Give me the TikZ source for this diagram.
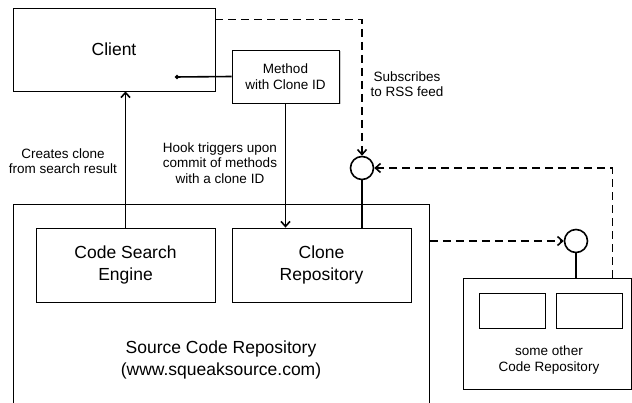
\documentclass[tikz,border=0pt]{standalone}
\usepackage{fontspec}
\setmainfont{Liberation Sans}
\usetikzlibrary{arrows.meta,shadows}

\begin{document}
\begin{tikzpicture}[x=1pt, y=-1pt,
  box/.style={draw, line width=0.8pt, inner sep=0pt, align=center},
  big/.style={font=\fontsize{17.5}{22}\selectfont, align=center},
  small/.style={font=\fontsize{13.5}{15.5}\selectfont, align=center},
  port/.style={circle, draw, line width=1.6pt, minimum size=23pt, inner sep=0pt},
  link/.style={line width=1.6pt},
  feed/.style={line width=1.6pt, dash pattern=on 8pt off 5pt},
  tip/.style={-{Straight Barb[length=5pt, width=9pt]}}]
  \useasboundingbox (0,0) rectangle (632,403);
  \clip (0,0) rectangle (632,403);

  % boxes
  \node[box, big, minimum width=202, minimum height=83] (client) at (114,49.5) {Client};
  \node[box, small, fill=white, minimum width=107, minimum height=53,
        drop shadow={shadow xshift=1.5pt, shadow yshift=-1.5pt, opacity=.4}] (method) at (285.5,76.5) {Method\\with Clone ID};
  \node[box, minimum width=416, minimum height=240, anchor=north west] (source) at (13,204) {};
  \node[box, big, minimum width=179, minimum height=74] (search) at (125.5,265) {Code Search\\Engine};
  \node[box, big, minimum width=179, minimum height=74] (clonerepo) at (321.5,265) {Clone\\Repository};
  \node[big] (sourcelabel) at (221,360) {Source Code Repository\\(www.squeaksource.com)};
  \node[box, minimum width=168, minimum height=111] (other) at (547,333.5) {};
  \node[box, minimum width=66, minimum height=35] (otherleft) at (512,310.5) {};
  \node[box, minimum width=66, minimum height=35] (otherright) at (589,310.5) {};
  \node[small] (otherlabel) at (549,360) {some other\\Code Repository};

  % feeds
  \node[port] (rss) at (362,168) {};
  \node[port] (rss2) at (576,241) {};

  % labels
  \node[small] (createlabel) at (63,161) {Creates clone\\from search result};
  \node[small] (hooklabel) at (220,163) {Hook triggers upon\\commit of methods\\with a clone ID};
  \node[small] (feedlabel) at (407,84) {Subscribes\\to RSS feed};

  % connectors
  \coordinate (methoddot) at (175,77);
  \draw[link, -{Circle[length=4pt]}] (method.west) -- (methoddot);
  \draw[link, tip] (search.north) -- (search.north |- client.south);
  \draw[link, tip] (method.south) -- (method.south |- clonerepo.north);
  \draw[link] (rss.south |- clonerepo.north) -- (rss.south);
  \draw[link] (rss2.south |- other.north) -- (rss2.south);
  \draw[feed, tip] ([yshift=-12pt]client.north east) -| (rss.north);
  \draw[feed, tip] ([xshift=-19pt]other.north east) |- (rss.east);
  \draw[feed, tip] (rss2.west -| source.east) -- (rss2.west);
\end{tikzpicture}
\end{document}
